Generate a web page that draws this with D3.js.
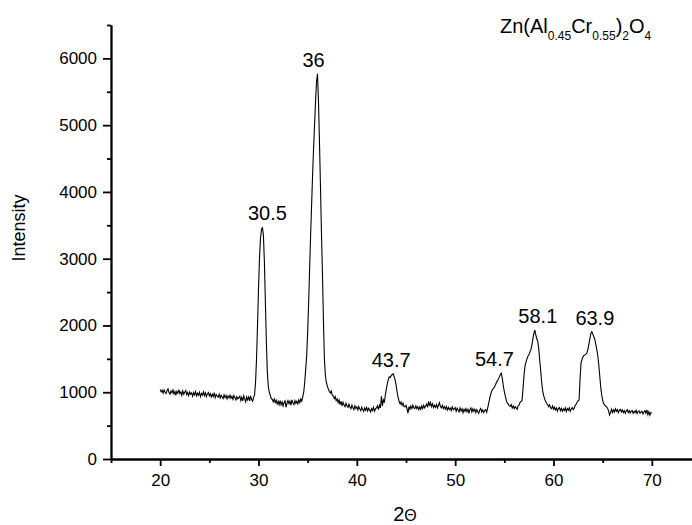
<!DOCTYPE html>
<html>
<head>
<meta charset="utf-8">
<script src="https://cdn.jsdelivr.net/npm/d3@7"></script>
<style>
  body { margin: 0; background: #fff; }
  svg { display: block; font-family: "Liberation Sans", Arial, sans-serif; }
  .axis path, .axis line { stroke: #000; stroke-width: 1.8px; }
  .axis text { font-size: 17px; fill: #000; }
  .curve { fill: none; stroke: #000; stroke-width: 1.1px; }
</style>
</head>
<body>
<div id="chart"></div>
<script>
// XRD pattern, 2theta from 20 to 70 with a 0.1 degree step
const thetaStart = 20;
const thetaStep = 0.1;
const intensity = [
  1040, 1005, 1030, 985, 1035, 1000, 980, 1025, 1050, 995,    // 20
  970, 1020, 990, 1035, 975, 1010, 955, 1015, 985, 1040,      // 21
  980, 1005, 955, 1020, 970, 1000, 1025, 965, 995, 950,       // 22
  1005, 970, 990, 940, 995, 960, 1010, 945, 985, 955,         // 23
  1000, 935, 980, 955, 1005, 950, 990, 935, 975, 995,         // 24
  945, 980, 930, 970, 935, 995, 920, 965, 940, 925,           // 25
  970, 915, 955, 930, 905, 960, 920, 950, 900, 945,           // 26
  915, 955, 910, 940, 895, 950, 920, 885, 935, 900,           // 27
  920, 940, 875, 925, 870, 945, 900, 855, 930, 885,           // 28
  930, 870, 945, 890, 865, 920, 960, 1150, 1500, 2000,        // 29
  2550, 3000, 3300, 3430, 3470, 3350, 2950, 2350, 1750, 1300, // 30
  1080, 1000, 955, 905, 895, 855, 900, 845, 880, 825,         // 31
  865, 815, 875, 810, 855, 795, 845, 870, 775, 835,           // 32
  875, 830, 865, 805, 885, 840, 815, 875, 835, 865,           // 33
  825, 885, 845, 900, 865, 930, 1000, 1150, 1350, 1550,       // 34
  1900, 2350, 2850, 3350, 3800, 4250, 4650, 5000, 5350, 5650, // 35
  5770, 5350, 4750, 4100, 3400, 2800, 2100, 1500, 1250, 1150, // 36
  1090, 1050, 1010, 990, 1020, 955, 945, 905, 935, 875,       // 37
  900, 845, 885, 815, 865, 795, 850, 810, 785, 835,           // 38
  795, 775, 820, 780, 755, 805, 770, 740, 795, 755,           // 39
  780, 735, 785, 750, 725, 775, 740, 715, 765, 730,           // 40
  770, 720, 760, 735, 705, 755, 725, 775, 715, 750,           // 41
  765, 795, 740, 805, 765, 940, 795, 885, 845, 960,           // 42
  1050, 1130, 1190, 1230, 1220, 1250, 1265, 1275, 1230, 1180, // 43
  1100, 1000, 920, 860, 825, 855, 805, 835, 785, 780,         // 44
  805, 755, 685, 785, 745, 795, 755, 805, 765, 755,           // 45
  795, 755, 785, 740, 780, 745, 795, 755, 805, 765,           // 46
  795, 825, 775, 865, 795, 845, 785, 825, 770, 805,           // 47
  775, 815, 765, 805, 845, 785, 765, 805, 755, 785,           // 48
  745, 785, 735, 775, 740, 765, 725, 780, 735, 755,           // 49
  770, 715, 760, 730, 705, 765, 720, 750, 695, 745,           // 50
  715, 755, 710, 745, 685, 740, 765, 705, 750, 715,           // 51
  745, 695, 740, 710, 685, 735, 755, 705, 735, 695,           // 52
  730, 740, 700, 760, 830, 900, 960, 1010, 1040, 1060,        // 53
  1080, 1110, 1150, 1170, 1200, 1230, 1270, 1285, 1200, 1090, // 54
  1010, 940, 880, 835, 825, 795, 790, 815, 765, 795,          // 55
  755, 785, 765, 745, 795, 810, 850, 860, 880, 1050,          // 56
  1250, 1390, 1450, 1500, 1540, 1560, 1600, 1640, 1700, 1800, // 57
  1880, 1930, 1860, 1800, 1760, 1650, 1480, 1320, 1150, 1020, // 58
  950, 900, 860, 835, 815, 785, 810, 765, 755, 795,           // 59
  745, 775, 735, 765, 715, 755, 770, 725, 760, 715,           // 60
  750, 725, 765, 710, 755, 730, 765, 715, 750, 770,           // 61
  740, 760, 800, 820, 850, 870, 885, 1200, 1440, 1490,        // 62
  1530, 1550, 1560, 1570, 1590, 1640, 1720, 1800, 1880, 1905, // 63
  1870, 1830, 1790, 1720, 1640, 1550, 1420, 1250, 1080, 960,  // 64
  880, 830, 810, 790, 780, 760, 720, 660, 695, 745,           // 65
  695, 735, 705, 750, 715, 740, 695, 730, 745, 705,           // 66
  735, 695, 725, 685, 720, 740, 695, 725, 690, 715,           // 67
  725, 685, 715, 695, 730, 680, 710, 720, 685, 705,           // 68
  715, 675, 705, 725, 685, 735, 665, 710, 655, 695,           // 69
  690                                                         // 70
];

const xTicks = [20, 30, 40, 50, 60, 70];
const xMinor = [15, 25, 35, 45, 55, 65, 75];
const yTicks = [0, 1000, 2000, 3000, 4000, 5000, 6000];
const yMinor = [500, 1500, 2500, 3500, 4500, 5500, 6500];
const peaks = [30.5, 36, 43.7, 54.7, 58.1, 63.9];

const data = intensity.map((v, i) => ({ t: thetaStart + i * thetaStep, v: v }));

const width = 692, height = 525;
const x = d3.scaleLinear().domain([15, 75]).range([111, 701]);
const y = d3.scaleLinear().domain([0, 6500]).range([459, 25]);

const svg = d3.select("#chart").append("svg")
    .attr("width", width)
    .attr("height", height);

// axes
svg.append("g")
    .attr("class", "axis")
    .attr("transform", "translate(0,459)")
    .call(d3.axisBottom(x).tickValues(xMinor).tickFormat("").tickSize(4).tickSizeOuter(0));
svg.append("g")
    .attr("class", "axis")
    .attr("transform", "translate(0,459)")
    .call(d3.axisBottom(x).tickValues(xTicks).tickSize(7).tickPadding(8).tickSizeOuter(0));

svg.append("g")
    .attr("class", "axis")
    .attr("transform", "translate(111,0)")
    .call(d3.axisLeft(y).tickValues(yMinor).tickFormat("").tickSize(4).tickSizeOuter(0));
svg.append("g")
    .attr("class", "axis")
    .attr("transform", "translate(111,0)")
    .call(d3.axisLeft(y).tickValues(yTicks).tickFormat(d3.format("d")).tickSize(8).tickPadding(6).tickSizeOuter(0));

// pattern
const line = d3.line()
    .x(d => x(d.t))
    .y(d => y(d.v));

svg.append("path")
    .datum(data)
    .attr("class", "curve")
    .attr("d", line);

// peak labels, sat above the local maximum
const nudge = { 30.5: 4, 36: -4, 43.7: -2, 54.7: -7, 58.1: 3, 63.9: 3 };
svg.append("g").selectAll("text")
    .data(peaks)
    .enter()
    .append("text")
    .attr("x", p => x(p) + nudge[p])
    .attr("y", p => {
        const top = d3.max(data.filter(d => Math.abs(d.t - p) <= 0.5), d => d.v);
        return y(top) - 7;
    })
    .attr("text-anchor", "middle")
    .attr("font-size", 20)
    .text(p => String(p));

// axis titles
svg.append("text")
    .attr("transform", "translate(25,228) rotate(-90)")
    .attr("text-anchor", "middle")
    .attr("font-size", 18)
    .text("Intensity");

const xt = svg.append("text")
    .attr("x", 405)
    .attr("y", 521)
    .attr("text-anchor", "middle");
xt.append("tspan").attr("font-size", 20).text("2");
xt.append("tspan").attr("font-size", 16).text("Θ");

// compound name
const title = svg.append("text")
    .attr("x", 500)
    .attr("y", 33)
    .attr("font-size", 20);
title.append("tspan").text("Zn(Al");
title.append("tspan").attr("font-size", 12).attr("dy", 7).text("0.45");
title.append("tspan").attr("dy", -7).text("Cr");
title.append("tspan").attr("font-size", 12).attr("dy", 7).text("0.55");
title.append("tspan").attr("dy", -7).text(")");
title.append("tspan").attr("font-size", 12).attr("dy", 7).text("2");
title.append("tspan").attr("dy", -7).text("O");
title.append("tspan").attr("font-size", 12).attr("dy", 7).text("4");
</script>
</body>
</html>
